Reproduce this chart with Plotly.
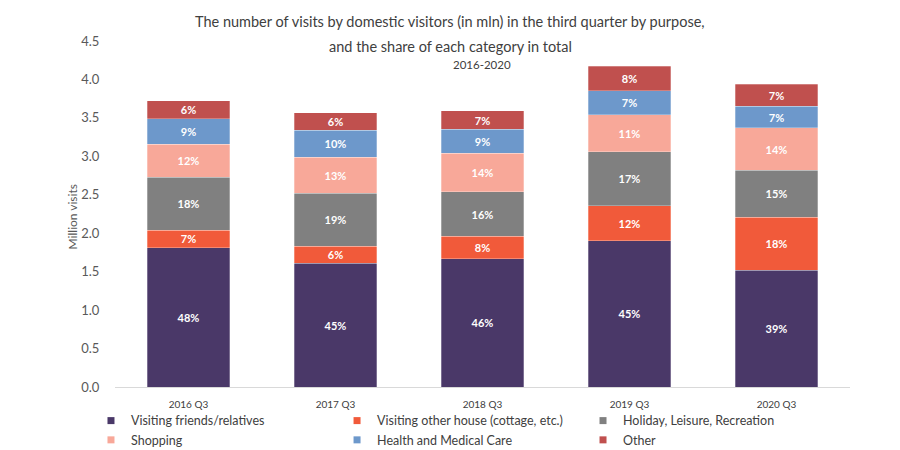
import plotly.graph_objects as go

# quarters on the x axis
quarters = ["2016 Q3", "2017 Q3", "2018 Q3", "2019 Q3", "2020 Q3"]

# million visits per purpose
friends_relatives = [1.81, 1.61, 1.67, 1.90, 1.52]
other_house = [0.23, 0.22, 0.29, 0.46, 0.69]
holiday = [0.69, 0.69, 0.58, 0.70, 0.61]
shopping = [0.43, 0.47, 0.50, 0.48, 0.55]
health = [0.33, 0.35, 0.31, 0.31, 0.28]
other = [0.23, 0.23, 0.24, 0.32, 0.29]

# share of each category in the quarter total (bar labels)
share_friends = ["48%", "45%", "46%", "45%", "39%"]
share_house = ["7%", "6%", "8%", "12%", "18%"]
share_holiday = ["18%", "19%", "16%", "17%", "15%"]
share_shopping = ["12%", "13%", "14%", "11%", "14%"]
share_health = ["9%", "10%", "9%", "7%", "7%"]
share_other = ["6%", "6%", "7%", "8%", "7%"]

# name, values, labels, colour, legend column
series = [
    ("Visiting friends/relatives", friends_relatives, share_friends, "#4a3868", "legend"),
    ("Visiting other house (cottage, etc.)", other_house, share_house, "#f15a3a", "legend2"),
    ("Holiday, Leisure, Recreation", holiday, share_holiday, "#808080", "legend3"),
    ("Shopping", shopping, share_shopping, "#f8a899", "legend"),
    ("Health and Medical Care", health, share_health, "#6d98cb", "legend2"),
    ("Other", other, share_other, "#c0504e", "legend3"),
]

font = "Lato"
fig = go.Figure()

for name, vals, labels, col, leg in series:
    fig.add_trace(go.Bar(
        x=quarters, y=vals, name=name, text=labels,
        marker=dict(color=col, line=dict(color="rgba(255,255,255,0.35)", width=0.8)),
        textposition="inside", insidetextanchor="middle", textangle=0,
        constraintext="none",
        textfont=dict(family=font, size=11, color="white", weight="bold"),
        showlegend=False, hoverinfo="skip",
    ))

# small square legend keys, three columns of two
for name, vals, labels, col, leg in series:
    fig.add_trace(go.Scatter(
        x=[None], y=[None], mode="markers", name=name, legend=leg,
        marker=dict(symbol="square", size=7, color=col),
    ))

def legend_col(x):
    return dict(
        xref="container", yref="container", x=x, y=0.1156,
        xanchor="left", yanchor="top", traceorder="normal",
        font=dict(size=12.5, color="#404040"), itemwidth=30,
        bgcolor="rgba(0,0,0,0)", tracegroupgap=0,
    )

fig.update_layout(
    width=900, height=450,
    barmode="stack", bargap=0.44,
    plot_bgcolor="white", paper_bgcolor="white",
    margin=dict(l=107, r=58, t=33, b=71, autoexpand=False),
    font=dict(family=font, color="#404040"),
    legend=legend_col(0.0922),
    legend2=legend_col(0.3656),
    legend3=legend_col(0.6389),
)

fig.update_xaxes(
    showline=True, linecolor="#d9d9d9", linewidth=1, automargin=False,
    ticks="outside", ticklen=8, tickcolor="rgba(0,0,0,0)",
    tickfont=dict(size=10, color="#404040"),
)
fig.update_yaxes(
    range=[0, 4.5], dtick=0.5, tickformat=".1f", showgrid=False, automargin=False,
    zeroline=False, ticks="outside", ticklen=12, tickcolor="rgba(0,0,0,0)",
    tickfont=dict(size=13, color="#595959"),
)

# y axis title
fig.add_annotation(
    text="Million visits", textangle=-90,
    xref="paper", yref="paper", x=-0.0585, y=0.49, xanchor="center", yanchor="middle",
    showarrow=False, font=dict(size=12, color="#595959"),
)

# title lines, placed in paper units of the plot area
fig.add_annotation(
    text="The number of visits by domestic visitors (in mln) in the third quarter by purpose,",
    xref="paper", yref="paper", x=0.456, y=1.055, yanchor="middle",
    showarrow=False, font=dict(size=14.5, color="#404040"),
)
fig.add_annotation(
    text="and the share of each category in total",
    xref="paper", yref="paper", x=0.456, y=0.985, yanchor="middle",
    showarrow=False, font=dict(size=14.5, color="#404040"),
)
fig.add_annotation(
    text="2016-2020",
    xref="paper", yref="paper", x=0.499, y=0.931, yanchor="middle",
    showarrow=False, font=dict(size=11.5, color="#404040"),
)

fig.write_html("out.html")
